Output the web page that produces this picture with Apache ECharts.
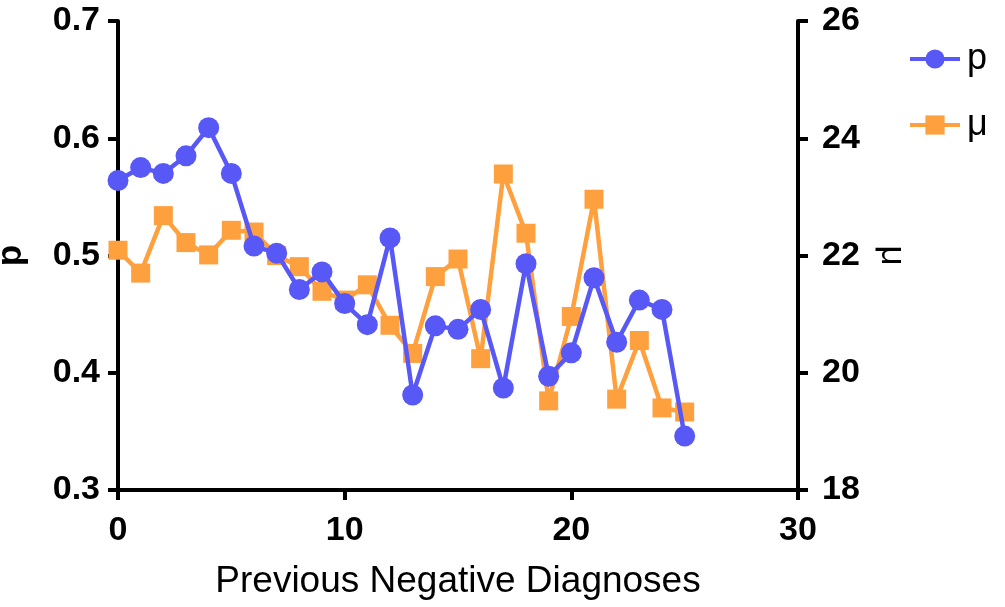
<!DOCTYPE html>
<html>
<head>
<meta charset="utf-8">
<script src="https://cdn.jsdelivr.net/npm/echarts@6/dist/echarts.min.js"></script>
<style>
  html, body { margin: 0; padding: 0; background: #fff; }
  #chart { width: 1005px; height: 607px; }
</style>
</head>
<body>
<div id="chart"></div>
<script>
// Number of previous negative diagnoses
const diagnoses = [0, 1, 2, 3, 4, 5, 6, 7, 8, 9, 10, 11, 12, 13, 14, 15, 16, 17, 18, 19, 20, 21, 22, 23, 24, 25];
// p (left axis)
const pValues = [0.564, 0.575, 0.570, 0.585, 0.609, 0.570, 0.508, 0.502, 0.471, 0.486, 0.459, 0.441, 0.515,
                 0.381, 0.440, 0.437, 0.454, 0.387, 0.493, 0.397, 0.417, 0.481, 0.426, 0.462, 0.454, 0.346];
// mu (right axis)
const muValues = [22.09, 21.70, 22.68, 22.22, 22.01, 22.43, 22.40, 22.00, 21.81, 21.39, 21.24, 21.50, 20.81,
                  20.33, 21.64, 21.94, 20.24, 23.39, 22.38, 19.52, 20.96, 22.96, 19.55, 20.55, 19.40, 19.33];
// Axis tick values
const xTicks = [0, 10, 20, 30];
const pTicks = [0.3, 0.4, 0.5, 0.6, 0.7];
const muTicks = [18, 20, 22, 24, 26];

const BLUE = '#5858f6';
const ORANGE = '#ffa03f';
const FONT = '"Liberation Sans", Arial, sans-serif';

const axisLine = { show: true, lineStyle: { color: '#000', width: 4 } };
const axisTick = { show: true, length: 10, lineStyle: { color: '#000', width: 4 } };
const tickLabel = { color: '#000', fontFamily: FONT, fontWeight: 'bold', fontSize: 34 };

const chart = echarts.init(document.getElementById('chart'), null, { renderer: 'canvas' });
chart.setOption({
  animation: false,
  backgroundColor: '#fff',
  grid: { left: 118, right: 207, top: 21, bottom: 117, containLabel: false, outerBoundsMode: 'none' },
  legend: {
    orient: 'vertical',
    left: 903,
    top: 36,
    itemWidth: 50,
    itemHeight: 24,
    itemGap: 30,
    lineStyle: { width: 4 },
    textStyle: { color: '#000', fontFamily: FONT, fontSize: 36, lineHeight: 35, padding: [0, 0, 0, 2] },
    data: ['p', 'μ']
  },
  xAxis: {
    type: 'value',
    min: xTicks[0],
    max: xTicks[xTicks.length - 1],
    interval: xTicks[1] - xTicks[0],
    name: 'Previous Negative Diagnoses',
    nameLocation: 'middle',
    nameGap: 73,
    nameTextStyle: { color: '#000', fontFamily: FONT, fontSize: 37 },
    axisLine: axisLine,
    axisTick: axisTick,
    axisLabel: Object.assign({ margin: 24 }, tickLabel),
    splitLine: { show: false }
  },
  yAxis: [
    {
      type: 'value',
      position: 'left',
      min: pTicks[0],
      max: pTicks[pTicks.length - 1],
      interval: 0.1,
      name: 'p',
      nameLocation: 'middle',
      nameRotate: 90,
      nameGap: 89,
      nameTextStyle: { color: '#000', fontFamily: FONT, fontWeight: 'bold', fontSize: 35 },
      axisLine: axisLine,
      axisTick: axisTick,
      axisLabel: Object.assign({ margin: 18, formatter: v => v.toFixed(1) }, tickLabel),
      splitLine: { show: false }
    },
    {
      type: 'value',
      position: 'right',
      min: muTicks[0],
      max: muTicks[muTicks.length - 1],
      interval: muTicks[1] - muTicks[0],
      name: 'μ',
      nameLocation: 'middle',
      nameRotate: -90,
      nameGap: 76,
      nameTextStyle: { color: '#000', fontFamily: FONT, fontSize: 35 },
      axisLine: axisLine,
      axisTick: axisTick,
      axisLabel: Object.assign({ margin: 24 }, tickLabel),
      splitLine: { show: false }
    }
  ],
  series: [
    {
      name: 'p',
      type: 'line',
      yAxisIndex: 0,
      data: diagnoses.map((d, i) => [d, pValues[i]]),
      symbol: 'circle',
      symbolSize: 21,
      lineStyle: { color: BLUE, width: 4.5 },
      itemStyle: { color: BLUE },
      z: 3
    },
    {
      name: 'μ',
      type: 'line',
      yAxisIndex: 1,
      data: diagnoses.map((d, i) => [d, muValues[i]]),
      symbol: 'rect',
      symbolSize: 19,
      lineStyle: { color: ORANGE, width: 4.5 },
      itemStyle: { color: ORANGE },
      z: 2
    }
  ]
});
</script>
</body>
</html>
